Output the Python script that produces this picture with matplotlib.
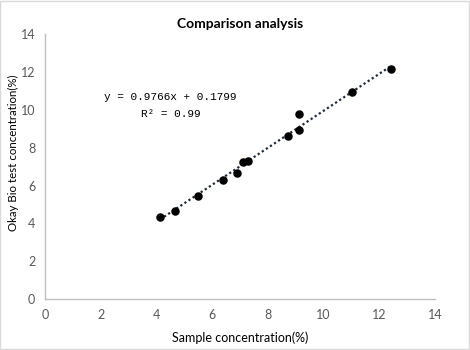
import matplotlib
matplotlib.use("Agg")
import matplotlib.pyplot as plt
from matplotlib.patches import Rectangle
import numpy as np

plt.rcParams["font.family"] = ["Lato", "DejaVu Sans"]

# Sample concentration (%) vs. Okay Bio test concentration (%)
sample_conc = [4.13, 4.68, 5.49, 6.40, 6.89, 7.12, 7.30, 8.71, 9.12, 9.12, 11.02, 12.42]
okay_bio_conc = [4.33, 4.68, 5.47, 6.27, 6.66, 7.27, 7.32, 8.64, 8.93, 9.77, 10.94, 12.15]

# Linear trendline coefficients
slope = 0.9766
intercept = 0.1799
r_squared = 0.99

x_ticks = [0, 2, 4, 6, 8, 10, 12, 14]
y_ticks = [0, 2, 4, 6, 8, 10, 12, 14]

fig = plt.figure(figsize=(4.7, 3.5), dpi=100)
ax = fig.add_axes([0.0957, 0.1449, 0.8298, 0.758])

ax.scatter(sample_conc, okay_bio_conc, s=26, color="black", zorder=3)

xs = np.array([min(sample_conc), max(sample_conc)])
ax.plot(xs, slope * xs + intercept, linestyle=(0, (1, 1.2)), color="#1f2a3a",
        linewidth=1.6, zorder=2)

ax.set_xlim(0, 14)
ax.set_ylim(0, 14)
ax.set_xticks(x_ticks)
ax.set_yticks(y_ticks)
ax.tick_params(length=0, labelsize=9, labelcolor="#595959", pad=7)
for side in ("top", "right"):
    ax.spines[side].set_visible(False)
for side in ("left", "bottom"):
    ax.spines[side].set_color("#bfbfbf")
    ax.spines[side].set_linewidth(1.0)

fig.text(0.511, 0.034, "Sample concentration(%)", ha="center", va="center",
         fontsize=9, color="#000000")
fig.text(0.028, 0.563, "Okay Bio test concentration(%)", ha="center", va="center",
         rotation=90, fontsize=8.3, color="#000000")
fig.text(0.511, 0.931, "Comparison analysis", ha="center", va="center",
         fontsize=10, fontweight="bold")

eq = f"y = {slope}x + {intercept}"
ax.text(0.3217, 0.762, eq, transform=ax.transAxes, ha="center", va="center",
        fontsize=8, family="Liberation Mono")
ax.text(0.3217, 0.700, f"R² = {r_squared}", transform=ax.transAxes,
        ha="center", va="center", fontsize=8, family="Liberation Mono")

fig.patches.append(Rectangle((0.001, 0.002), 0.996, 0.995, transform=fig.transFigure,
                             fill=False, edgecolor="#d9d9d9", linewidth=1.0))

fig.savefig("out.png", dpi=100)
